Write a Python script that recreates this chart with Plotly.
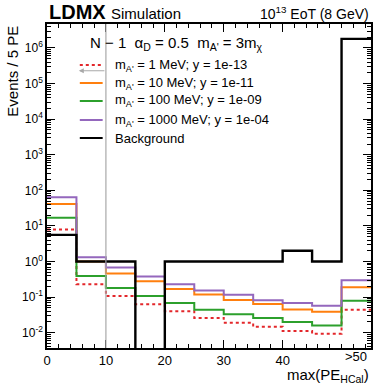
import plotly.graph_objects as go

# bin edges in PE (last bin is the >50 overflow)
edges = [0, 5, 10, 15, 20, 25, 30, 35, 40, 45, 50, 55]

sig_1mev = [7.9, 0.23, 0.107, 0.0625, 0.040, 0.026, 0.019, 0.0147, 0.0111, 0.0093, 0.044]
sig_10mev = [41, 1.0, 0.46, 0.28, 0.17, 0.119, 0.083, 0.064, 0.045, 0.039, 0.19]
sig_100mev = [17, 0.39, 0.18, 0.107, 0.068, 0.044, 0.033, 0.026, 0.020, 0.016, 0.079]
sig_1000mev = [64, 1.32, 0.68, 0.38, 0.23, 0.153, 0.116, 0.081, 0.068, 0.057, 0.30]
background = [5.6, 1, 1, 0, 1, 1, 1, 1, 2, 1, 1.8e6]

labels = [
    "m<sub>A'</sub> = 1 MeV; y = 1e-13",
    "m<sub>A'</sub> = 10 MeV; y = 1e-11",
    "m<sub>A'</sub> = 100 MeV; y = 1e-09",
    "m<sub>A'</sub> = 1000 MeV; y = 1e-04",
    "Background",
]

y_exps = [-3, -2, -1, 0, 1, 2, 3, 4, 5, 6]
x_ticks = [0, 10, 20, 30, 40]

FONT = "Liberation Sans, Arial, Helvetica, sans-serif"


def step(vals):
    # zero-count bins drop below the axis floor
    ys = [v if v > 0 else 1e-9 for v in vals]
    return edges, ys + [ys[-1]]


series = [
    (sig_1mev, "#e3272b", "dot"),
    (sig_10mev, "#ff7f0e", "solid"),
    (sig_100mev, "#2ca02c", "solid"),
    (sig_1000mev, "#9467bd", "solid"),
    (background, "black", "solid"),
]

W, H = 380, 386
L, R, T, B = 47, 7, 24, 38
pw, ph = W - L - R, H - T - B


def px(xp):
    return (xp - L) / pw


def py(yp):
    return 1 - (yp - T) / ph


fig = go.Figure()

# N-1 cut line at 10 PE
fig.add_shape(type="line", x0=10, x1=10, y0=0, y1=1, xref="x", yref="paper",
              line=dict(color="#a8a8a8", width=1.2))
fig.add_annotation(x=5.4, y=5.36, ax=10, ay=5.36, xref="x", yref="y", axref="x", ayref="y",
                   showarrow=True, arrowhead=2, arrowsize=1, arrowwidth=1, arrowcolor="#a8a8a8", text="")

for vals, color, dash in series:
    xs, ys = step(vals)
    fig.add_trace(go.Scatter(
        x=xs, y=ys, mode="lines", line_shape="hv",
        line=dict(color=color, width=2.0 if color != "black" else 2.4, dash=dash),
        showlegend=False, hoverinfo="skip",
    ))

# hand-drawn legend
row_y = [65, 83, 101, 120, 138]
fig.add_annotation(x=px(88), y=py(43), xref="paper", yref="paper", xanchor="left", yanchor="middle",
                   text="N − 1  α<sub>D</sub> = 0.5  m<sub>A'</sub> = 3m<sub>χ</sub>",
                   showarrow=False, font=dict(family=FONT, size=15, color="black"))
for (vals, color, dash), lab, yy in zip(series, labels, row_y):
    fig.add_shape(type="line", xref="paper", yref="paper", x0=px(80), x1=px(103), y0=py(yy), y1=py(yy),
                  line=dict(color=color, width=2.0, dash=dash))
    fig.add_annotation(x=px(113), y=py(yy), xref="paper", yref="paper", xanchor="left", yanchor="middle",
                       text=lab, showarrow=False, font=dict(family=FONT, size=13, color="black"))

# header texts
fig.add_annotation(x=px(47), y=py(12), xref="paper", yref="paper", xanchor="left", yanchor="middle",
                   text="<b>LDMX</b>", showarrow=False, font=dict(family=FONT, size=20, color="black"))
fig.add_annotation(x=px(109), y=py(13), xref="paper", yref="paper", xanchor="left", yanchor="middle",
                   text="Simulation", showarrow=False, font=dict(family=FONT, size=15, color="black"))
fig.add_annotation(x=1, y=py(13), xref="paper", yref="paper", xanchor="right", yanchor="middle",
                   text="10<sup>13</sup> EoT (8 GeV)", showarrow=False, font=dict(family=FONT, size=14, color="black"))

# axis titles (ROOT-style, aligned to the ends)
fig.add_annotation(x=px(12), y=1, xref="paper", yref="paper", xanchor="center", yanchor="top",
                   text="Events / 5 PE", textangle=-90, showarrow=False,
                   font=dict(family=FONT, size=15, color="black"))
fig.add_annotation(x=1, y=py(375), xref="paper", yref="paper", xanchor="right", yanchor="middle",
                   text="max(PE<sub>HCal</sub>)", showarrow=False, font=dict(family=FONT, size=15, color="black"))
fig.add_annotation(x=52.5, y=py(357), xref="x", yref="paper", xanchor="center", yanchor="middle",
                   text="&gt;50", showarrow=False, font=dict(family=FONT, size=13, color="black"))

fig.update_xaxes(
    range=[0, 55], tickvals=x_ticks, ticks="inside", ticklen=8, tickcolor="black",
    showline=True, linecolor="black", linewidth=1.5, mirror="ticks", showgrid=False, zeroline=False,
    tickfont=dict(family=FONT, size=13, color="black"),
    minor=dict(dtick=2, ticks="inside", ticklen=4, tickcolor="black", showgrid=False),
)
fig.update_yaxes(
    type="log", range=[-2.43, 6.674],
    tickvals=[10.0 ** e for e in y_exps], ticktext=[f"10<sup>{e}</sup>" for e in y_exps],
    ticks="inside", ticklen=8,
    tickcolor="black", showline=True, linecolor="black", linewidth=1.5, mirror="ticks",
    showgrid=False, zeroline=False, tickfont=dict(family=FONT, size=12, color="black"),
    minor=dict(tickvals=[k * 10.0 ** e for e in y_exps for k in range(2, 10)],
               ticks="inside", ticklen=4, tickcolor="black", showgrid=False),
)
fig.update_layout(
    width=W, height=H, margin=dict(l=L, r=R, t=T, b=B),
    plot_bgcolor="white", paper_bgcolor="white", showlegend=False,
    font=dict(family=FONT, color="black"),
)

fig.write_html("out.html", config={"displayModeBar": False},
               post_script="document.body.style.margin='0';")
